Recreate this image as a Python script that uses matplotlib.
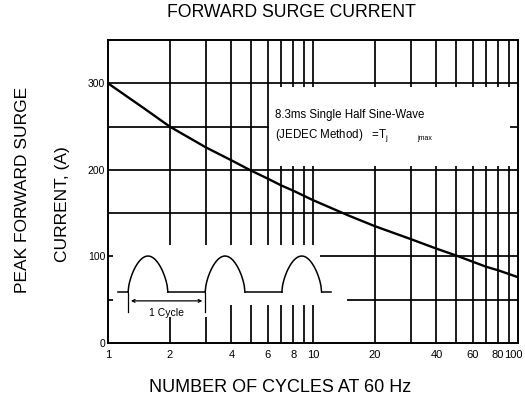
import numpy as np
import matplotlib
matplotlib.use("Agg")
from matplotlib import pyplot as plt
from matplotlib.patches import Rectangle
from matplotlib.transforms import ScaledTranslation

plt.rcParams['font.family'] = ['Liberation Sans', 'DejaVu Sans']

# curve
cycles = [1, 1.5, 2, 3, 4, 5, 6, 7, 8, 10, 15, 20, 30, 40, 50, 60, 70, 80, 100]
surge_current = [300, 271, 250, 226, 211, 199, 190, 182, 176, 165, 147, 135, 120, 109, 101, 94, 88, 84, 76]

# axis ticks
xtick_vals = [1, 2, 4, 6, 8, 10, 20, 40, 60, 80, 100]
xtick_labels = ['1', '2', '4', '6', '8', '10', '20', '40', '60', '80', '100']
xgrid_vals = [2, 3, 4, 5, 6, 7, 8, 9, 10, 20, 30, 40, 50, 60, 70, 80, 90]
ytick_vals = [0, 100, 200, 300]
ygrid_vals = [50, 100, 150, 200, 250, 300]

fig = plt.figure(figsize=(5.25, 4.04), dpi=100)
ax = fig.add_axes([108/525, 1-343/404, 410/525, 303/404])

ax.set_xscale('log')
ax.set_xlim(1, 100)
ax.set_ylim(0, 350)

#grid
for xv in xgrid_vals:
    ax.axvline(xv, color='black', lw=1.25, zorder=0.5)
for yv in ygrid_vals:
    ax.axhline(yv, color='black', lw=1.25, zorder=0.5)

#white areas that break the grid (text box and waveform sketch)
masks = [(0.393, 0.584, 0.587, 0.26),
         (0.012, 0.125, 0.505, 0.198),
         (0.505, 0.12, 0.078, 0.04),
         (0.12, 0.085, 0.14, 0.045)]
for mx, my, mw, mh in masks:
    ax.add_patch(Rectangle((mx, my), mw, mh, transform=ax.transAxes,
                           facecolor='white', edgecolor='none', zorder=1))

ax.plot(cycles, surge_current, color='black', lw=1.7, zorder=3)

ax.set_xticks(xtick_vals)
ax.set_xticklabels(xtick_labels)
ax.xaxis.set_minor_locator(matplotlib.ticker.NullLocator())
ax.set_yticks(ytick_vals)
ax.tick_params(axis='x', length=0, labelsize=8, pad=5)
ax.tick_params(axis='y', length=0, labelsize=7.5, pad=2)
last = ax.get_xticklabels()[-1]
last.set_transform(last.get_transform() + ScaledTranslation(-5/100, 0, fig.dpi_scale_trans))
for s in ax.spines.values():
    s.set_linewidth(1.4)

# half sine-wave sketch, axes fraction
base, peak = 0.168, 0.287
tr = ax.transAxes
ax.plot([0.024, 0.049], [base, base], color='black', lw=1.1, transform=tr, zorder=3)
hump_starts = [0.049, 0.237, 0.424]
hump_w = 0.097
t = np.linspace(0, 1, 60)
for i, x0 in enumerate(hump_starts):
    ax.plot(x0 + t*hump_w, base + (peak-base)*np.sin(np.pi*t)**0.6,
            color='black', lw=1.1, transform=tr, zorder=3)
    x_end = hump_starts[i+1] if i < len(hump_starts)-1 else x0 + hump_w + 0.024
    ax.plot([x0 + hump_w, x_end], [base, base], color='black', lw=1.1, transform=tr, zorder=3)

ax.annotate('', xy=(0.049, 0.139), xytext=(0.237, 0.139), xycoords=tr,
            arrowprops=dict(arrowstyle='<->', lw=0.9, mutation_scale=5), zorder=3)
ax.plot([0.049, 0.049], [0.102, 0.165], color='black', lw=0.9, transform=tr, zorder=3)
ax.plot([0.237, 0.237], [0.102, 0.165], color='black', lw=0.9, transform=tr, zorder=3)
ax.text(0.143, 0.10, '1 Cycle', transform=tr, fontsize=7.5, ha='center', va='center', zorder=3)

ax.text(0.407, 0.752, '8.3ms Single Half Sine-Wave', transform=tr, fontsize=8.3,
        ha='left', va='center', zorder=3)
ax.text(0.407, 0.686, '(JEDEC Method)   =T$_\\mathregular{j}$', transform=tr, fontsize=8.3,
        ha='left', va='center', zorder=3)
ax.text(0.755, 0.676, 'jmax', transform=tr, fontsize=5, ha='left', va='center', zorder=3)

fig.text(0.556, 0.968, 'FORWARD SURGE CURRENT', fontsize=12.7, ha='center', va='center')
fig.text(0.533, 0.042, 'NUMBER OF CYCLES AT 60 Hz', fontsize=13, ha='center', va='center')
fig.text(23/525, 1-190/404, 'PEAK FORWARD SURGE', fontsize=12.5, rotation=90, ha='center', va='center')
fig.text(63/525, 1-204/404, 'CURRENT, (A)', fontsize=12.5, rotation=90, ha='center', va='center')

fig.savefig('out.png', dpi=100)
